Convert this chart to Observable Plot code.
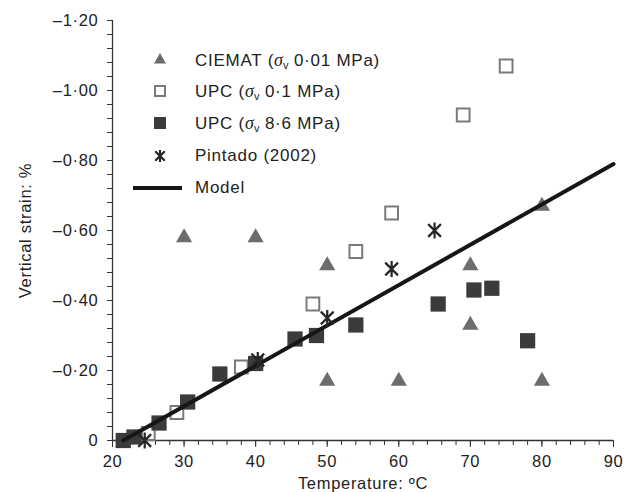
<!DOCTYPE html>
<html><head><meta charset="utf-8">
<script src="https://cdn.jsdelivr.net/npm/d3@7"></script>
<script src="https://cdn.jsdelivr.net/npm/@observablehq/plot@0.6"></script>
<style>
body{margin:0;background:#fff;}
#wrap{position:relative;width:629px;height:492px;font-family:"Liberation Sans",Arial,sans-serif;color:#222;}
#wrap svg text{letter-spacing:0.7px;}
#legend{position:absolute;left:0;top:0;width:629px;height:492px;pointer-events:none;}
.lt{position:absolute;left:195px;font-size:17px;letter-spacing:0.75px;line-height:20px;white-space:nowrap;color:#222;}
.lt i{font-family:"Liberation Serif","Times New Roman",serif;font-size:18px;letter-spacing:0;}
.lt sub{font-size:11px;vertical-align:-3px;line-height:0;letter-spacing:0;}
</style>
</head><body>
<div id="wrap"></div>
<script>
// ---- data ----
const ciematT = [30, 40, 50, 50, 60, 70, 70, 80, 80];
const ciematS = [-0.58, -0.58, -0.50, -0.17, -0.17, -0.50, -0.33, -0.67, -0.17];

const upc01T = [25, 29, 38, 48, 54, 59, 69, 75];
const upc01S = [-0.02, -0.08, -0.21, -0.39, -0.54, -0.65, -0.93, -1.07];

const upc86T = [21.5, 23, 26.5, 30.5, 35, 40, 45.5, 48.5, 54, 65.5, 70.5, 73, 78];
const upc86S = [0, -0.01, -0.05, -0.11, -0.19, -0.22, -0.29, -0.30, -0.33, -0.39, -0.43, -0.435, -0.285];

const pintT = [24.5, 40.3, 50, 59, 65];
const pintS = [0, -0.23, -0.35, -0.49, -0.60];

const modelT = [21.5, 90];
const modelS = [0, -0.79];

const xMajor = [20, 30, 40, 50, 60, 70, 80, 90];
const xMinor = d3.range(20, 91, 2);
const yMajor = [0, -0.2, -0.4, -0.6, -0.8, -1.0, -1.2];
const yMinor = d3.range(0, 31).map(i => -i * 0.04);

const xLabel = "Temperature: ºC";
const yLabel = "Vertical strain: %";
const legendItems = [
  {key: "ciemat", html: 'CIEMAT (<i>σ</i><sub>v</sub> 0·01 MPa)'},
  {key: "upc01", html: 'UPC (<i>σ</i><sub>v</sub> 0·1 MPa)'},
  {key: "upc86", html: 'UPC (<i>σ</i><sub>v</sub> 8·6 MPa)'},
  {key: "pint", html: 'Pintado (2002)'},
  {key: "model", html: 'Model'}
];

const toRows = (T, S) => T.map((t, i) => ({t, s: S[i]}));
const fmt = d => Math.abs(d) < 1e-9 ? "0" : "\u2013" + Math.abs(d).toFixed(2).replace(".", "·");

// asterisk drawn as a vertical bar plus an X (as in the reference)
const asteriskX = {
  draw(ctx, size) {
    const r = Math.sqrt(size / Math.PI);
    const d = r * 0.8;
    ctx.moveTo(0, -r); ctx.lineTo(0, r);
    ctx.moveTo(-d, -d); ctx.lineTo(d, d);
    ctx.moveTo(-d, d); ctx.lineTo(d, -d);
  }
};

const colTri = "#6c6c6c", colFill = "#3b3b3b", colOpen = "#7a7a7a", colAst = "#262626", colLine = "#161616";

const chart = Plot.plot({
  width: 629, height: 492,
  marginLeft: 112, marginRight: 16, marginTop: 20, marginBottom: 52,
  style: {fontFamily: '"Liberation Sans", Arial, sans-serif', fontSize: "16.5px", color: "#222", background: "white", overflow: "visible"},
  x: {domain: [20, 90], label: null},
  y: {domain: [0, -1.2], label: null},
  marks: [
    Plot.ruleY([0], {stroke: "#333", strokeWidth: 1.3}),
    Plot.ruleX([20], {stroke: "#333", strokeWidth: 1.3}),
    Plot.axisX({ticks: xMajor, tickSize: 7, tickPadding: 8, tickFormat: d => String(d), label: null, stroke: "#333", fill: "#222"}),
    Plot.axisX({ticks: xMinor, tickSize: 5, tickFormat: () => "", label: null, stroke: "#333"}),
    Plot.axisY({ticks: yMajor, tickSize: 5, tickPadding: 9, tickFormat: fmt, label: null, stroke: "#333", fill: "#222"}),
    Plot.axisY({ticks: yMinor, tickSize: 5, tickFormat: () => "", label: null, stroke: "#333"}),
    Plot.text([xLabel], {frameAnchor: "bottom", lineAnchor: "middle", textAnchor: "middle", dy: 43, fontSize: 16.5, fill: "#222"}),
    Plot.text([yLabel], {frameAnchor: "left", lineAnchor: "middle", textAnchor: "middle", dx: -87, rotate: -90, fontSize: 16.5, fill: "#222"}),
    Plot.dot(toRows(ciematT, ciematS), {x: "t", y: "s", symbol: "triangle", r: 6, fill: colTri, stroke: "none"}),
    Plot.dot(toRows(upc01T, upc01S), {x: "t", y: "s", symbol: "square", r: 7.2, fill: "white", stroke: colOpen, strokeWidth: 2}),
    Plot.dot(toRows(upc86T, upc86S), {x: "t", y: "s", symbol: "square", r: 8.6, fill: colFill, stroke: "none"}),
    Plot.line(toRows(modelT, modelS), {x: "t", y: "s", stroke: colLine, strokeWidth: 4}),
    Plot.dot(toRows(pintT, pintS), {x: "t", y: "s", symbol: asteriskX, r: 8, fill: "none", stroke: colAst, strokeWidth: 2.2})
  ]
});
const wrap = document.getElementById("wrap");
wrap.appendChild(chart);

// ---- legend overlay ----
const legend = d3.select(wrap).append("div").attr("id", "legend");
const svg = legend.append("svg").attr("width", 629).attr("height", 492).style("position", "absolute").style("left", 0).style("top", 0);
const rowY = [60, 91, 123, 156, 188];
const sx = 160;
legendItems.forEach((it, i) => {
  const y = rowY[i];
  if (it.key === "ciemat") {
    svg.append("path").attr("transform", `translate(${sx},${y})`).attr("d", d3.symbol(d3.symbolTriangle, 62)()).attr("fill", colTri);
  } else if (it.key === "upc01") {
    svg.append("rect").attr("x", sx - 5).attr("y", y - 5).attr("width", 10).attr("height", 10).attr("fill", "white").attr("stroke", colOpen).attr("stroke-width", 2);
  } else if (it.key === "upc86") {
    svg.append("rect").attr("x", sx - 6).attr("y", y - 6).attr("width", 12).attr("height", 12).attr("fill", colFill);
  } else if (it.key === "pint") {
    svg.append("path").attr("transform", `translate(${sx},${y})`).attr("d", d3.symbol(asteriskX, Math.PI * 36)()).attr("stroke", colAst).attr("stroke-width", 2.2).attr("fill", "none");
  } else {
    svg.append("line").attr("x1", 133).attr("x2", 182).attr("y1", y).attr("y2", y).attr("stroke", colLine).attr("stroke-width", 4);
  }
  legend.append("div").attr("class", "lt").style("top", (y - 10) + "px").html(it.html);
});
</script>
</body></html>
